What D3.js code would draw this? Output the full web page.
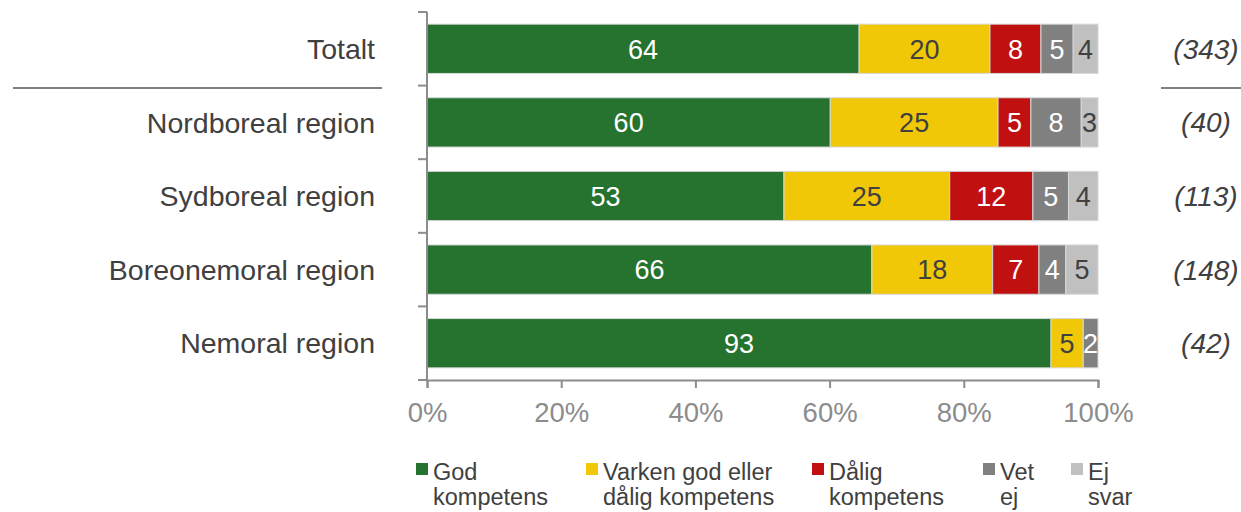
<!DOCTYPE html>
<html>
<head>
<meta charset="utf-8">
<script src="https://cdn.jsdelivr.net/npm/d3@7"></script>
<style>
  body { margin: 0; background: #fff; }
  svg { font-family: "Liberation Sans", Arial, sans-serif; }
</style>
</head>
<body>
<svg width="1241" height="512"></svg>
<script>
// data (percent shares per region)
var regions = ["Totalt", "Nordboreal region", "Sydboreal region", "Boreonemoral region", "Nemoral region"];
var counts = ["(343)", "(40)", "(113)", "(148)", "(42)"];
var seriesNames = ["God kompetens", "Varken god eller dålig kompetens", "Dålig kompetens", "Vet ej", "Ej svar"];
var god      = [64.4, 60.1, 53.2, 66.3, 93.0];
var varken   = [19.5, 25.0, 24.7, 18.0, 4.8];
var dalig    = [7.6, 4.9, 12.4, 6.9, 0];
var vetej    = [4.8, 7.5, 5.3, 4.0, 2.2];
var ejsvar   = [3.7, 2.5, 4.4, 4.8, 0];
var xTicks = [0, 20, 40, 60, 80, 100];

var colors = ["#267330", "#f0c808", "#c01010", "#808080", "#c0c0c0"];
var labelColors = ["#fff", "#404040", "#fff", "#fff", "#404040"];
var legendLines = [["God", "kompetens"], ["Varken god eller", "dålig kompetens"], ["Dålig", "kompetens"], ["Vet", "ej"], ["Ej", "svar"]];
var legendX = [416, 586, 812, 983, 1071];

var svg = d3.select("svg");

var x = d3.scaleLinear().domain([0, 100]).range([427, 1098]);
var y = d3.scaleBand().domain(regions).range([12, 380]).paddingInner(0.33).paddingOuter(0.165);

var rows = regions.map(function(r, i) {
  return { region: r, god: god[i], varken: varken[i], dalig: dalig[i], vetej: vetej[i], ejsvar: ejsvar[i] };
});
var keys = ["god", "varken", "dalig", "vetej", "ejsvar"];
var stacked = d3.stack().keys(keys)(rows);

var layer = svg.selectAll("g.layer")
  .data(stacked)
  .enter().append("g")
    .attr("class", "layer");

layer.selectAll("rect")
  .data(function(d) { return d.filter(function(s) { return s[1] - s[0] > 0; }); })
  .enter().append("rect")
    .attr("x", function(d) { return x(d[0]); })
    .attr("y", function(d) { return y(d.data.region); })
    .attr("width", function(d) { return x(d[1]) - x(d[0]); })
    .attr("height", y.bandwidth())
    .attr("fill", function() { return colors[keys.indexOf(d3.select(this.parentNode).datum().key)]; })
    .attr("stroke", "#d8d8d8")
    .attr("stroke-width", 1);

layer.each(function(ld, li) {
  d3.select(this).selectAll("text")
    .data(ld.filter(function(s) { return s[1] - s[0] > 0; }))
    .enter().append("text")
      .attr("x", function(d) { return (x(d[0]) + x(d[1])) / 2; })
      .attr("y", function(d) { return y(d.data.region) + y.bandwidth() / 2; })
      .attr("dy", "0.36em")
      .attr("text-anchor", "middle")
      .attr("font-size", 27)
      .attr("fill", labelColors[li])
      .text(function(d) { return Math.round(d[1] - d[0]); });
});

// y axis: line with ticks at band edges
var axisColor = "#8c8c8c";
svg.append("line")
  .attr("x1", 427).attr("x2", 427)
  .attr("y1", 12).attr("y2", 380)
  .attr("stroke", axisColor).attr("stroke-width", 2);
var edges = regions.map(function(r) { return y(r) - y.step() * y.paddingInner() / 2; }).concat([380]);
svg.selectAll("line.ytick")
  .data(edges)
  .enter().append("line")
    .attr("class", "ytick")
    .attr("x1", 418).attr("x2", 427)
    .attr("y1", function(d) { return d; }).attr("y2", function(d) { return d; })
    .attr("stroke", axisColor).attr("stroke-width", 2);

// x axis
var xAxis = svg.append("g")
  .attr("transform", "translate(0,380)")
  .call(d3.axisBottom(x).tickValues(xTicks).tickSize(8).tickPadding(14).tickFormat(function(d) { return d + "%"; }));
xAxis.select(".domain").attr("stroke", axisColor).attr("stroke-width", 2);
xAxis.selectAll(".tick line").attr("stroke", axisColor).attr("stroke-width", 2);
xAxis.selectAll(".tick text")
  .attr("font-size", 27.5)
  .attr("font-family", "Liberation Sans, Arial, sans-serif")
  .attr("fill", "#8c8c8c");

// category labels
svg.selectAll("text.cat")
  .data(regions)
  .enter().append("text")
    .attr("class", "cat")
    .attr("x", 375)
    .attr("y", function(d) { return y(d) + y.bandwidth() / 2; })
    .attr("dy", "0.36em")
    .attr("text-anchor", "end")
    .attr("font-size", 28.5)
    .attr("fill", "#404040")
    .text(function(d) { return d; });

// counts
svg.selectAll("text.n")
  .data(counts)
  .enter().append("text")
    .attr("class", "n")
    .attr("x", 1206)
    .attr("y", function(d, i) { return y(regions[i]) + y.bandwidth() / 2; })
    .attr("dy", "0.36em")
    .attr("text-anchor", "middle")
    .attr("font-size", 28)
    .attr("font-style", "italic")
    .attr("fill", "#404040")
    .text(function(d) { return d; });

// separator lines under Totalt
var sepY = 88;
svg.append("line").attr("x1", 13).attr("x2", 382).attr("y1", sepY).attr("y2", sepY)
  .attr("stroke", "#808080").attr("stroke-width", 2);
svg.append("line").attr("x1", 1161).attr("x2", 1241).attr("y1", sepY).attr("y2", sepY)
  .attr("stroke", "#808080").attr("stroke-width", 2);

// legend
var legend = svg.selectAll("g.legend")
  .data(seriesNames)
  .enter().append("g")
    .attr("class", "legend")
    .attr("transform", function(d, i) { return "translate(" + legendX[i] + ",463)"; });
legend.append("rect")
  .attr("width", 12).attr("height", 12)
  .attr("fill", function(d, i) { return colors[i]; });
legend.append("text")
  .attr("font-size", 23.5)
  .attr("fill", "#404040")
  .selectAll("tspan")
  .data(function(d, i) { return legendLines[i]; })
  .enter().append("tspan")
    .attr("x", 17)
    .attr("y", function(d, j) { return 17 + j * 25; })
    .text(function(d) { return d; });
</script>
</body>
</html>
